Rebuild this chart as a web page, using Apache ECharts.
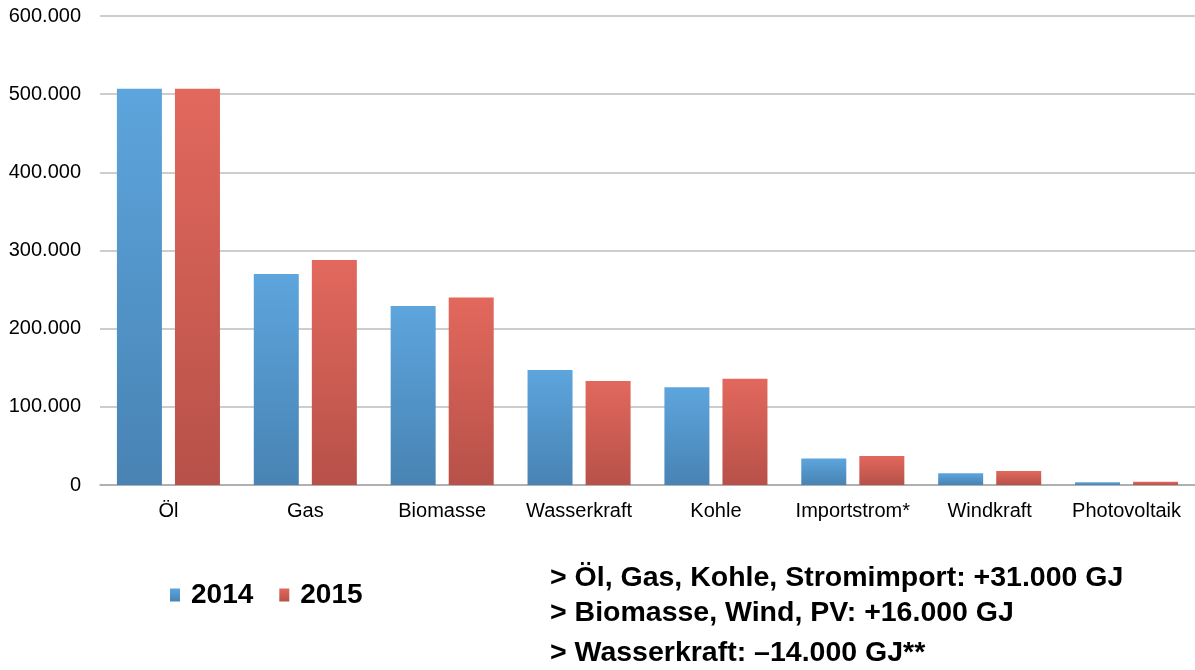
<!DOCTYPE html>
<html>
<head>
<meta charset="utf-8">
<script src="https://cdn.jsdelivr.net/npm/echarts@6/dist/echarts.min.js"></script>
<style>
  html, body { margin: 0; padding: 0; background: #fff; }
  #chart { width: 1195px; height: 670px; }
</style>
</head>
<body>
<div id="chart"></div>
<script>
const categories = ['Öl', 'Gas', 'Biomasse', 'Wasserkraft', 'Kohle', 'Importstrom*', 'Windkraft', 'Photovoltaik']
const values2014 = [507000, 270000, 229000, 147000, 125000, 34000, 15000, 3500]
const values2015 = [507000, 288000, 240000, 133000, 136000, 37000, 18000, 4000]
const notes = [
  '> Öl, Gas, Kohle, Stromimport: +31.000 GJ',
  '> Biomasse, Wind, PV: +16.000 GJ',
  '> Wasserkraft: –14.000 GJ**'
]

const font = '"Liberation Sans", Arial, sans-serif'
const chart = echarts.init(document.getElementById('chart'))

function grad (top, bottom) {
  return new echarts.graphic.LinearGradient(0, 0, 0, 1, [
    { offset: 0, color: top },
    { offset: 1, color: bottom }
  ])
}

chart.setOption({
  animation: false,
  textStyle: { fontFamily: font },
  grid: { left: 100, right: 0, top: 16, bottom: 185 },
  legend: {
    left: 165,
    top: 576,
    itemWidth: 10,
    itemHeight: 13,
    itemGap: 26,
    icon: 'rect',
    textStyle: { fontSize: 28, fontWeight: 'bold', color: '#000', fontFamily: font, padding: [0, 0, 0, 6] },
    data: ['2014', '2015']
  },
  xAxis: {
    type: 'category',
    data: categories,
    axisTick: { show: false },
    axisLine: { lineStyle: { color: '#a6a6a6', width: 1.5 } },
    axisLabel: { color: '#000', fontSize: 20, margin: 16, interval: 0 }
  },
  yAxis: {
    type: 'value',
    min: 0,
    max: 600000,
    interval: 100000,
    axisLine: { show: false },
    axisTick: { show: false },
    splitLine: { lineStyle: { color: '#bdbdbd', width: 1.5 } },
    axisLabel: {
      color: '#000',
      fontSize: 20,
      margin: 19,
      formatter: v => v === 0 ? '0' : (v / 1000).toFixed(0) + '.000'
    }
  },
  series: [
    {
      name: '2014',
      type: 'bar',
      data: values2014,
      barWidth: 45,
      barGap: '29%',
      itemStyle: { color: grad('#5da5dd', '#4883b3') }
    },
    {
      name: '2015',
      type: 'bar',
      data: values2015,
      barWidth: 45,
      itemStyle: { color: grad('#e2685d', '#b75149') }
    }
  ],
  graphic: notes.map((t, i) => ({
    type: 'text',
    x: 550,
    y: [578, 613, 653][i],
    style: { text: t, fontSize: 28.5, fontWeight: 'bold', fill: '#000', fontFamily: font, verticalAlign: 'middle' }
  }))
})
</script>
</body>
</html>
